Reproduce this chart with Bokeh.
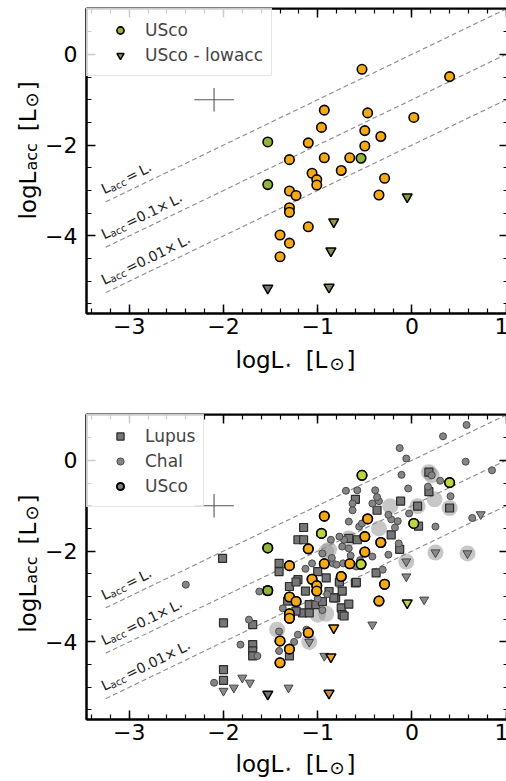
import math
from bokeh.plotting import figure
from bokeh.layouts import column, row
from bokeh.models import (Label, Legend, LegendItem, LinearAxis, FixedTicker, Range1d)
from bokeh.embed import file_html
from bokeh.resources import INLINE

FONT = "DejaVu Sans"

# ---------------- data ----------------
ORANGE = "#F4A915"
GREEN = "#93B43A"
LIME = "#BBD63A"

usco_logL = [-0.53, 0.40, -0.93, -0.47, 0.02, -0.96, -0.50, -0.33, -1.53, -1.10,
             -0.50, -1.30, -0.93, -0.66, -0.54, -0.75, -1.06, -1.01, -1.01, -0.29,
             -1.53, -1.30, -1.23, -0.35, -1.30, -1.30, -1.10, -1.40, -1.30, -1.40]
usco_logLacc = [-0.33, -0.49, -1.23, -1.29, -1.39, -1.61, -1.68, -1.81, -1.93, -1.95,
                -2.02, -2.32, -2.28, -2.28, -2.29, -2.56, -2.62, -2.76, -2.88, -2.73,
                -2.87, -3.01, -3.11, -3.10, -3.38, -3.48, -3.80, -3.98, -4.16, -4.46]
usco_color_top = [ORANGE] * 30
for i in (8, 14, 20):
    usco_color_top[i] = GREEN
usco_color_bottom = [ORANGE] * 30
for i in (0, 1, 4, 5, 14):
    usco_color_bottom[i] = LIME
for i in (8, 20):
    usco_color_bottom[i] = GREEN

lowacc_logL = [-0.05, -0.83, -0.86, -1.53, -0.88]
lowacc_logLacc = [-3.14, -3.69, -4.33, -5.15, -5.13]
lowacc_color_top = ["#7FA03A", "#9A9844", "#8E8E4E", "#7A7A62", "#858558"]
lowacc_color_bottom = [LIME, ORANGE, ORANGE, "#707070", "#D08A40"]

lupus_logL = [0.18, 0.18, -0.60, -0.12, 0.06, 0.40, -0.37, 0.07, -0.22, -0.67,
              -0.13, -1.15, -1.21, -1.15, -2.01, -1.41, -1.41, -1.30, -1.21, -0.91,
              -0.88, -1.09, -1.02, -0.95, -0.81, -0.75, -1.16, -1.09, -2.00, -1.69,
              -1.69, -1.69, -1.69, -1.30, -2.00, -2.00, -0.38, -0.60, -1.23, -1.13,
              -0.77, -0.59, -0.74, -0.83, -0.67, -0.74, -1.32, -1.23, -0.58, -1.53,
              -0.72, -1.00]
lupus_logLacc = [-0.26, -0.69, -0.86, -0.90, -1.01, -1.05, -1.10, -1.45, -1.64, -1.72,
                 -1.96, -1.48, -1.75, -1.75, -2.16, -2.27, -2.45, -2.78, -2.63, -2.59,
                 -2.89, -3.18, -3.18, -3.11, -3.03, -3.25, -3.36, -3.36, -3.58, -3.62,
                 -4.06, -4.20, -4.31, -4.31, -4.61, -4.85, -2.48, -2.70, -2.68, -2.88,
                 -2.68, -2.69, -2.88, -3.03, -3.17, -3.40, -3.10, -3.32, -1.75, -2.87,
                 -3.43, -2.45]

chai_logL = [0.58, 0.33, -0.13, -0.06, 0.57, 0.85, -0.11, 0.21, -0.04, 0.17,
             -0.70, -0.58, -0.39, 0.41, -0.35, -0.63, -0.42, -0.63, -0.03, 0.64,
             -0.22, -0.67, -0.15, -0.56, -0.18, 0.25, -0.14, -0.86, -0.72, -0.37,
             -0.53, -0.77, -0.74, -0.67, -1.06, -0.84, -0.80, -0.73, -0.59, -0.42,
             -0.31, -0.25, -1.13, -2.40, -1.62, -1.37, -1.73, -1.21, -1.41, -1.82,
             -1.64, -1.25, -2.10, -1.12, -0.95, -0.85, -0.65, -0.55, -1.00, -0.95,
             -0.90, -1.41, 0.30, -0.25]
chai_logLacc = [0.78, 0.53, 0.27, 0.04, -0.03, -0.22, -0.32, -0.33, -0.62, -0.58,
                -0.67, -0.66, -0.66, -0.79, -0.90, -0.95, -0.95, -1.10, -1.17, -1.27,
                -1.30, -1.35, -1.34, -1.46, -1.48, -1.46, -1.83, -1.75, -1.75, -0.81,
                -1.39, -1.68, -1.90, -1.94, -2.27, -2.27, -2.30, -2.27, -2.34, -2.12,
                -2.41, -2.08, -2.39, -2.74, -2.89, -3.26, -3.51, -3.84, -3.77, -4.06,
                -4.31, -4.00, -4.90, -3.73, -2.05, -2.15, -2.10, -2.20, -3.05, -3.30,
                -2.95, -4.20, -0.45, -1.20]

halo_logL = [0.18, 0.21, 0.24, -0.23, 0.06, 0.40, -0.35, -0.67, -0.91, 0.25,
             0.59, -0.06, -0.91, -1.09, -1.43, -0.88, -1.00]
halo_logLacc = [-0.26, -0.33, -0.86, -1.01, -1.01, -1.05, -1.50, -1.72, -2.01, -2.03,
                -2.05, -2.23, -3.38, -4.00, -3.73, -1.97, -3.40]

limit_logL = [0.73, 0.25, 0.59, -0.06, -0.06, 0.13, -0.42, -1.09, -0.93, -2.00,
              -1.89, -1.80, -1.72, -1.31]
limit_logLacc = [-1.19, -2.03, -2.05, -2.23, -2.56, -3.07, -3.62, -4.00, -4.31, -5.08,
                 -5.01, -4.79, -4.90, -5.01]

err_x = [-2.1]
err_y = [-1.0]
err_half_x = [0.21]
err_half_y = [0.26]

acc_ratios = [1.0, 0.1, 0.01]
ratio_texts = ["=", "=0.1×", "=0.01×"]

x_ticks = [-3, -2, -1, 0, 1]
x_tick_labels = ["−3", "−2", "−1", "0", "1"]
y_ticks = [-4, -2, 0]
y_tick_labels = ["−4", "−2", "0"]
x_minor = [round(-3.4 + 0.2 * i, 1) for i in range(23)]
y_minor = [round(-5.5 + 0.5 * i, 1) for i in range(14)]

X_RANGE = (-3.454, 1.025)
Y_RANGE = (-5.71, 1.01)
FRAME_W = 422
FRAME_H = 305
YLAB_W = 42
LEFT_BORDER = 42
BOTTOM_BORDER = 32

# ---------------- helpers ----------------
W = {'L': 0.557, 'a': 0.613, 'c': 0.550, '=': 0.838, '0': 0.636, '1': 0.636,
     '.': 0.318, '×': 0.838, ' ': 0.318, 'l': 0.278, 'o': 0.612, 'g': 0.635,
     '[': 0.390, ']': 0.390, '⊙': 0.838, '⋆': 0.6}


def tw(t, fs):
    return sum(W.get(ch, 0.6) for ch in t) * fs


def rich(p, x, y, pieces, angle, base_dx=0.0, base_dy=0.0, center=False, color="black"):
    ux, uy = math.cos(angle), math.sin(angle)
    nx, ny = -math.sin(angle), math.cos(angle)
    total = sum(tw(t, fs) + gap for t, fs, s, gap in pieces)
    d = -total / 2 if center else 0.0
    for t, fs, s, gap in pieces:
        p.add_layout(Label(x=x, y=y, text=t, angle=angle,
                           x_offset=base_dx + d * ux + s * nx,
                           y_offset=base_dy + d * uy + s * ny,
                           text_font=FONT, text_font_size=f"{fs}px",
                           text_align="left", text_baseline="alphabetic",
                           text_color=color))
        d += tw(t, fs) + gap


def label_fig(w, h):
    f = figure(width=w, height=h, x_range=Range1d(0, w), y_range=Range1d(0, h),
               output_backend="svg", toolbar_location=None, min_border=0,
               x_axis_location=None, y_axis_location=None, outline_line_color=None,
               background_fill_color="white", border_fill_color="white")
    f.grid.visible = False
    return f


def make_fig(top):
    p = figure(frame_width=FRAME_W, frame_height=FRAME_H,
               x_range=Range1d(*X_RANGE), y_range=Range1d(*Y_RANGE),
               output_backend="svg", toolbar_location=None,
               min_border_left=LEFT_BORDER, min_border_right=0, min_border_top=top,
               min_border_bottom=BOTTOM_BORDER,
               background_fill_color="white", border_fill_color="white")
    p.grid.visible = False
    p.outline_line_color = "black"
    p.outline_line_width = 2
    p.add_layout(LinearAxis(fixed_location=Y_RANGE[1]), "above")
    p.add_layout(LinearAxis(fixed_location=X_RANGE[1]), "right")
    for ax in p.below + p.above:
        ax.ticker = FixedTicker(ticks=x_ticks, minor_ticks=x_minor)
    for ax in p.left + p.right:
        ax.ticker = FixedTicker(ticks=y_ticks, minor_ticks=y_minor)
    for ax in p.axis:
        ax.axis_line_color = "black"
        ax.axis_line_width = 2
        ax.major_tick_in = 9
        ax.major_tick_out = 0
        ax.major_tick_line_width = 1.5
        ax.minor_tick_in = 5
        ax.minor_tick_out = 0
        ax.minor_tick_line_width = 1.2
        ax.major_label_text_font = FONT
        ax.major_label_text_font_size = "22px"
        ax.major_label_text_color = "black"
    p.above[0].major_label_overrides = {t: "" for t in x_ticks}
    p.right[0].major_label_overrides = {t: "" for t in y_ticks}
    for ax in p.above + p.right:
        ax.major_label_standoff = 0
    p.below[0].major_label_overrides = dict(zip(x_ticks, x_tick_labels))
    p.below[0].major_label_standoff = 4
    p.left[0].major_label_overrides = dict(zip(y_ticks, y_tick_labels))
    p.left[0].major_label_standoff = 9

    # accretion ratio lines
    line_x = [-3.25, 1.1]
    for r in acc_ratios:
        p.line(line_x, [v + math.log10(r) for v in line_x], line_dash="5 3",
               line_color="#8a8a8a", line_width=1.1)
    ppx = FRAME_W / (X_RANGE[1] - X_RANGE[0])
    ppy = FRAME_H / (Y_RANGE[1] - Y_RANGE[0])
    ang = math.atan(ppy / ppx)
    xl = -3.23
    for r, rt in zip(acc_ratios, ratio_texts):
        pieces = [("L", 14, 0, 0), ("acc", 10, -3, 2), (rt, 14, 0, 3),
                  ("L", 14, 0, 0), ("⋆", 8, -3, 0)]
        rich(p, xl, xl + math.log10(r), pieces, ang,
             base_dx=-12.5 * math.sin(ang), base_dy=12.5 * math.cos(ang), color="#222222")

    # typical error cross
    p.segment(x0=[x - d for x, d in zip(err_x, err_half_x)], y0=err_y,
              x1=[x + d for x, d in zip(err_x, err_half_x)], y1=err_y,
              line_color="#555555", line_width=1.1)
    p.segment(x0=err_x, y0=[y - d for y, d in zip(err_y, err_half_y)],
              x1=err_x, y1=[y + d for y, d in zip(err_y, err_half_y)],
              line_color="#555555", line_width=1.1)
    return p


def ylabel_fig(height):
    f = label_fig(YLAB_W, height)
    rich(f, 27, BOTTOM_BORDER + FRAME_H / 2,
         [("logL", 23, 0, 1), ("acc", 16, -4, 12), ("[L", 23, 0, 2), ("⊙", 18, -3.5, 2), ("]", 23, 0, 0)],
         math.pi / 2, center=True)
    return f


def xlabel_fig(height, baseline):
    f = label_fig(506, height)
    rich(f, YLAB_W + LEFT_BORDER + FRAME_W / 2, baseline,
         [("logL", 23, 0, 1), ("⋆", 12, -5, 14), ("[L", 23, 0, 2), ("⊙", 18, -4, 2), ("]", 23, 0, 0)],
         0.0, center=True)
    return f


def style_legend(leg):
    leg.location = "top_left"
    leg.margin = 0
    leg.padding = 8
    leg.spacing = 0
    leg.glyph_width = 50
    leg.glyph_height = 18
    leg.label_height = 25
    leg.label_standoff = 0
    leg.label_text_font = FONT
    leg.label_text_font_size = "17px"
    leg.border_line_color = "#cccccc"
    leg.border_line_width = 1
    leg.background_fill_color = "white"
    leg.background_fill_alpha = 0.8


# ---------------- top panel ----------------
H1 = 8 + FRAME_H + BOTTOM_BORDER          # 345
p1 = make_fig(8)
tri1 = p1.scatter(lowacc_logL, lowacc_logLacc, marker="inverted_triangle", size=10,
                  fill_color=lowacc_color_top, line_color="black", line_width=1.5)
cir1 = p1.scatter(usco_logL, usco_logLacc, marker="circle", size=9.5,
                  fill_color=usco_color_top, line_color="black", line_width=1.6)
leg1 = Legend(items=[LegendItem(label="USco", renderers=[cir1], index=8),
                     LegendItem(label="USco - lowacc", renderers=[tri1], index=0)])
style_legend(leg1)
p1.add_layout(leg1, "center")

# ---------------- bottom panel ----------------
H2 = 24 + FRAME_H + BOTTOM_BORDER         # 361
p2 = make_fig(24)
p2.scatter(halo_logL, halo_logLacc, marker="circle", size=16, fill_color="#8f8f8f",
           fill_alpha=0.5, line_color=None)
usco_gray = p2.scatter(usco_logL, usco_logLacc, marker="circle", size=9,
                       fill_color="#808080", line_color="black", line_width=2)
lup = p2.scatter(lupus_logL, lupus_logLacc, marker="square", size=8, fill_color="#767676",
                 line_color="#2b2b2b", line_width=1.2)
cha = p2.scatter(chai_logL, chai_logLacc, marker="circle", size=7, fill_color="#858585",
                 line_color="#4a4a4a", line_width=1)
p2.scatter(limit_logL, limit_logLacc, marker="inverted_triangle", size=9, fill_color="#8a8a8a",
           line_color="#444444", line_width=1)
p2.scatter(lowacc_logL, lowacc_logLacc, marker="inverted_triangle", size=10,
           fill_color=lowacc_color_bottom, line_color="black", line_width=1.5)
p2.scatter(usco_logL, usco_logLacc, marker="circle", size=9.5,
           fill_color=usco_color_bottom, line_color="black", line_width=1.6)
leg2 = Legend(items=[LegendItem(label="Lupus", renderers=[lup]),
                     LegendItem(label="ChaI", renderers=[cha]),
                     LegendItem(label="USco", renderers=[usco_gray])])
style_legend(leg2)
p2.add_layout(leg2, "center")

XL1_H = 390 - H1                          # 45
XL2_H = 781 - 390 - H2                    # 30
top_block = row(ylabel_fig(H1), p1, spacing=0)
xl1 = xlabel_fig(XL1_H, XL1_H - (359 - H1))
bottom_block = row(ylabel_fig(H2), p2, spacing=0)
xl2 = xlabel_fig(XL2_H, XL2_H - (763 - 390 - H2))

layout = column(top_block, xl1, bottom_block, xl2, spacing=0)
open("out.html", "w").write(file_html(layout, INLINE))
